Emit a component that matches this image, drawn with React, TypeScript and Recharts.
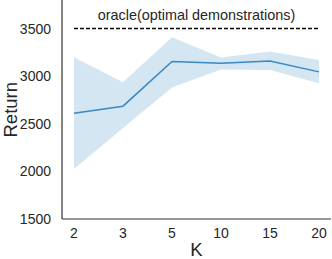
import React from "react";
import { Area, ComposedChart, Line, ReferenceLine, XAxis, YAxis } from "recharts";

// values
const kValues = ["2", "3", "5", "10", "15", "20"];
const meanReturn = [2610, 2685, 3155, 3135, 3160, 3045];
const lowerReturn = [2025, 2455, 2880, 3070, 3065, 2925];
const upperReturn = [3200, 2935, 3410, 3195, 3260, 3170];
const oracleReturn = 3500;
const yTicks = [1500, 2000, 2500, 3000, 3500];

const data = kValues.map((k, i) => ({
  k,
  mean: meanReturn[i],
  band: [lowerReturn[i], upperReturn[i]],
}));

const font = "'Liberation Sans', Arial, sans-serif";

export default function App() {
  return (
    <div style={{ position: "fixed", left: 0, top: 0, width: 332, height: 259, background: "#fff", fontFamily: font }}>
      <ComposedChart width={332} height={259} data={data} margin={{ top: 0, right: 1, bottom: 0, left: 0 }}>
        <XAxis
          dataKey="k"
          height={40}
          padding={{ left: 12, right: 12 }}
          tickLine={false}
          axisLine={{ stroke: "#333333", strokeWidth: 1.2 }}
          tick={{ fill: "#262626", fontSize: 14, fontFamily: font }}
          tickMargin={3}
          label={{ value: "K", position: "insideBottom", offset: 3, fill: "#262626", fontSize: 18.5, fontFamily: font }}
        />
        <YAxis
          width={62}
          domain={[1500, 3800]}
          ticks={yTicks}
          tickLine={false}
          axisLine={{ stroke: "#333333", strokeWidth: 1.2 }}
          tick={{ fill: "#262626", fontSize: 14, fontFamily: font }}
          tickMargin={5}
          label={{ value: "Return", angle: -90, position: "insideLeft", offset: 10, dy: 28, fill: "#262626", fontSize: 18.5, fontFamily: font }}
        />
        <Area dataKey="band" stroke="none" fill="#d4e6f1" fillOpacity={1} isAnimationActive={false} />
        <Line dataKey="mean" stroke="#3a88c4" strokeWidth={1.5} dot={false} isAnimationActive={false} />
        <ReferenceLine
          segment={[
            { x: kValues[0], y: oracleReturn },
            { x: kValues[kValues.length - 1], y: oracleReturn },
          ]}
          stroke="#000"
          strokeWidth={1.5}
          strokeDasharray="4 2"
          label={{ value: "oracle(optimal demonstrations)", position: "top", offset: 9, fill: "#262626", fontSize: 14.4, fontFamily: font }}
        />
      </ComposedChart>
    </div>
  );
}
